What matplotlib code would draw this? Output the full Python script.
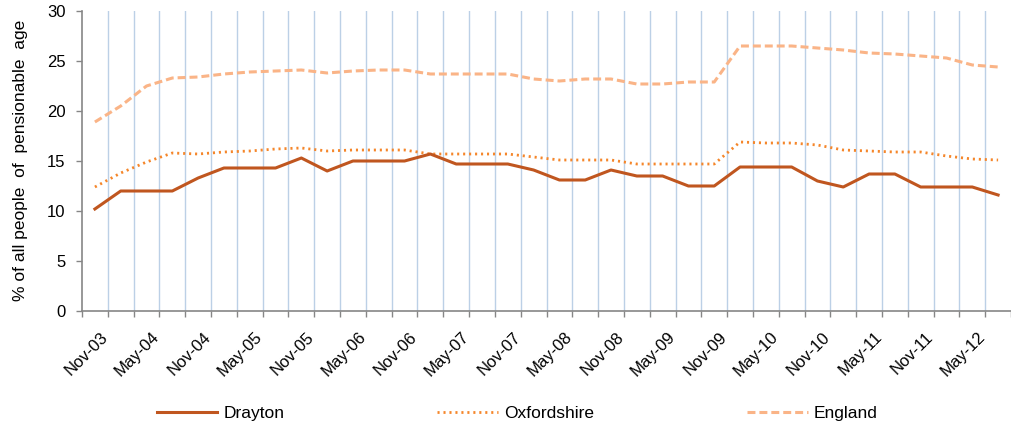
import matplotlib

matplotlib.use("Agg")
import matplotlib.pyplot as plt
import matplotlib.transforms as mtransforms
import numpy as np

plt.rcParams["font.family"] = ["Liberation Sans", "DejaVu Sans"]

DRAYTON_COLOR = "#C0561F"
OXON_COLOR = "#F5862A"
ENGLAND_COLOR = "#FAB487"
GRID_COLOR = "#BCD0E6"
AXIS_COLOR = "#868686"

# quarterly periods, Nov-03 .. Aug-12
periods = [
    "Nov-03", "Feb-04", "May-04", "Aug-04", "Nov-04", "Feb-05", "May-05", "Aug-05",
    "Nov-05", "Feb-06", "May-06", "Aug-06", "Nov-06", "Feb-07", "May-07", "Aug-07",
    "Nov-07", "Feb-08", "May-08", "Aug-08", "Nov-08", "Feb-09", "May-09", "Aug-09",
    "Nov-09", "Feb-10", "May-10", "Aug-10", "Nov-10", "Feb-11", "May-11", "Aug-11",
    "Nov-11", "Feb-12", "May-12", "Aug-12",
]

drayton = [
    10.2, 12.0, 12.0, 12.0, 13.3, 14.3, 14.3, 14.3, 15.3, 14.0, 15.0, 15.0,
    15.0, 15.7, 14.7, 14.7, 14.7, 14.1, 13.1, 13.1, 14.1, 13.5, 13.5, 12.5,
    12.5, 14.4, 14.4, 14.4, 13.0, 12.4, 13.7, 13.7, 12.4, 12.4, 12.4, 11.6,
]
oxfordshire = [
    12.4, 13.8, 14.9, 15.8, 15.7, 15.9, 16.0, 16.2, 16.3, 16.0, 16.1, 16.1,
    16.1, 15.7, 15.7, 15.7, 15.7, 15.4, 15.1, 15.1, 15.1, 14.7, 14.7, 14.7,
    14.7, 16.9, 16.8, 16.8, 16.6, 16.1, 16.0, 15.9, 15.9, 15.5, 15.2, 15.1,
]
england = [
    18.9, 20.5, 22.5, 23.3, 23.4, 23.7, 23.9, 24.0, 24.1, 23.8, 24.0, 24.1,
    24.1, 23.7, 23.7, 23.7, 23.7, 23.2, 23.0, 23.2, 23.2, 22.7, 22.7, 22.9,
    22.9, 26.5, 26.5, 26.5, 26.3, 26.1, 25.8, 25.7, 25.5, 25.3, 24.6, 24.4,
]

x = np.arange(len(periods))

fig = plt.figure(figsize=(10.11, 4.34), dpi=100)
ax = fig.add_axes([82 / 1011, 123 / 434, 929 / 1011, 300 / 434])

ax.plot(x, drayton, color=DRAYTON_COLOR, linewidth=2.2, label="Drayton", zorder=4)
ax.plot(x, oxfordshire, color=OXON_COLOR, linewidth=2.0, linestyle=(0, (0.75, 1.4)),
        label="Oxfordshire", zorder=3)
ax.plot(x, england, color=ENGLAND_COLOR, linewidth=2.2, linestyle=(0, (2.6, 1.3)),
        label="England", zorder=2)

ax.set_xlim(-0.5, 35.33)
ax.set_ylim(0, 30)
ax.set_yticks(np.arange(0, 31, 5))

# category boundaries: tick marks + vertical grid
ax.set_xticks(np.arange(-0.5, len(periods), 1), minor=True)
ax.set_xticks(x[::2], [periods[i] for i in x[::2]])
for b in np.arange(0.5, len(periods) - 1, 1):
    ax.axvline(b, color=GRID_COLOR, linewidth=1.0, zorder=1)

ax.tick_params(axis="x", which="minor", length=4, width=1, color=AXIS_COLOR, direction="out")
ax.tick_params(axis="x", which="major", length=0, pad=13, labelsize=12)
ax.tick_params(axis="y", length=4, width=1, color=AXIS_COLOR, pad=8, labelsize=12)
offset = mtransforms.ScaledTranslation(5 / 100, 0, fig.dpi_scale_trans)
for lab in ax.get_xticklabels():
    lab.set_rotation(45)
    lab.set_ha("right")
    lab.set_va("top")
    lab.set_rotation_mode("anchor")
    lab.set_transform(lab.get_transform() + offset)

for side in ("top", "right"):
    ax.spines[side].set_visible(False)
for side in ("left", "bottom"):
    ax.spines[side].set_color(AXIS_COLOR)
    ax.spines[side].set_linewidth(1.2)

fig.text(21 / 1011, 1 - 160 / 434, "% of all people  of  pensionable  age",
         rotation=90, ha="center", va="center", fontsize=12.5)

fig.legend(loc="center", bbox_to_anchor=(517 / 1011, 1 - 413 / 434), ncol=3,
           frameon=False, fontsize=12.5, handlelength=3.5, handletextpad=0.35,
           columnspacing=8.8)

fig.savefig("out.png", dpi=100)
